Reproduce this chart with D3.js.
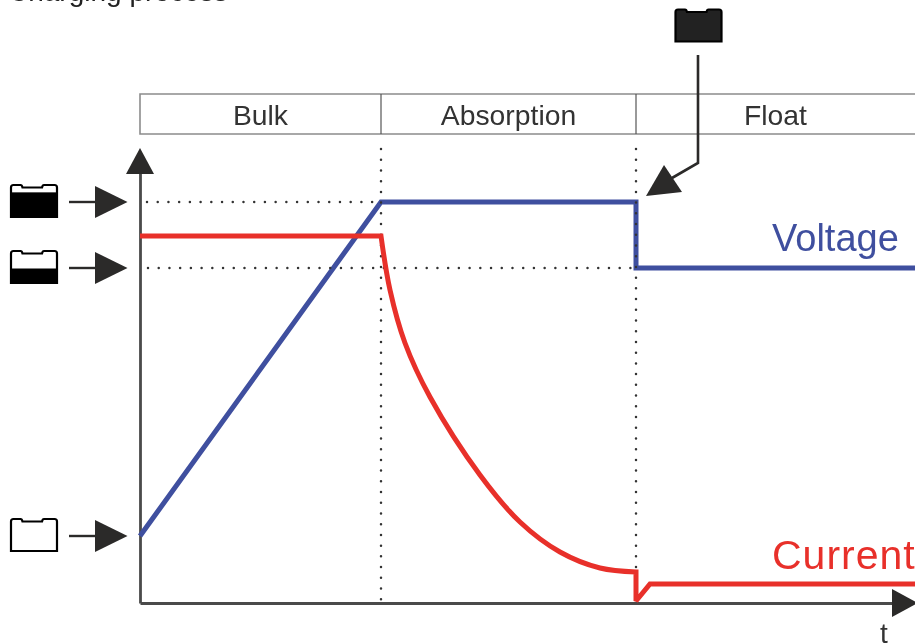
<!DOCTYPE html>
<html>
<head>
<meta charset="utf-8">
<script src="https://cdn.jsdelivr.net/npm/d3@7"></script>
<style>
	html, body { margin: 0; padding: 0; background: #fff; overflow: hidden; }
	svg { display: block; filter: blur(0.45px); }
	text { font-family: "Liberation Sans", Arial, sans-serif; }
</style>
</head>
<body>
<div id="chart"></div>
<script>
//phases of the charge, t is in picture units from the origin
var phaseNames = ["Bulk", "Absorption", "Float"];
var phaseEdges = [0, 241, 496, 775];

//levels on the vertical axis
var levelAbsorption = 401;
var levelFloat = 335;
var levelEmpty = 67;

var voltageT = [0, 241, 496, 496, 775];
var voltageV = [67, 401, 401, 335, 335];

var currentFlatT = [0, 241];
var currentFlatV = [367, 367];
var currentDecayT = [241, 250, 265, 290, 340, 380, 420, 460, 496];
var currentDecayV = [367, 313, 260, 206, 128, 81, 51, 35, 31];
var currentFloatT = [496, 496, 510, 775];
var currentFloatV = [31, 2, 19, 19];

//charge state of the battery icons, 1 = full
var batteryLevels = [0.85, 0.5, 0];

var width = 915, height = 644;
var ink = "#2b2a29", blue = "#3f4f9f", red = "#e8302a", rule = "#8c8c8c";

var svg = d3.select("#chart").append("svg")
	.attr("width", width)
	.attr("height", height);

var x = d3.scaleLinear().domain([0, 752]).range([140, 892]);
var y = d3.scaleLinear().domain([0, 430]).range([603, 173]);

svg.append("text")
	.attr("x", 8)
	.attr("y", 1)
	.style("font-size", "28px")
	.style("fill", "#222")
	.text("Charging process");

//header with the phase names
var headerTop = 94, headerBottom = 134;
svg.append("path")
	.attr("d", "M" + width + "," + headerTop + "H" + x(0) + "V" + headerBottom + "H" + width)
	.attr("fill", "none")
	.attr("stroke", rule)
	.attr("stroke-width", 1.6);

svg.selectAll(".phaseEdge")
	.data(phaseEdges.slice(1, 3))
	.enter().append("line")
	.attr("class", "phaseEdge")
	.attr("x1", function(d){ return x(d); })
	.attr("x2", function(d){ return x(d); })
	.attr("y1", headerTop)
	.attr("y2", headerBottom)
	.attr("stroke", "#555")
	.attr("stroke-width", 1.2);

svg.selectAll(".phaseName")
	.data(phaseNames)
	.enter().append("text")
	.attr("class", "phaseName")
	.attr("x", function(d, i){
		return i == 2 ? 775.5 : (x(phaseEdges[i]) + x(phaseEdges[i + 1])) / 2;
	})
	.attr("y", 125)
	.attr("text-anchor", "middle")
	.style("font-size", "28.3px")
	.style("fill", "#333")
	.text(function(d){ return d; });

//axes, no ticks on them, only the two arrows
var axisX = svg.append("g")
	.attr("transform", "translate(0," + y(0) + ")")
	.call(d3.axisBottom(x).tickValues([]).tickSizeOuter(0));
var axisY = svg.append("g")
	.attr("transform", "translate(" + x(0) + ",0)")
	.call(d3.axisLeft(y).tickValues([]).tickSizeOuter(0));
svg.selectAll(".domain")
	.attr("stroke", "#4a4a4a")
	.attr("stroke-width", 2.8);

function triangle(points){
	svg.append("polygon")
		.attr("points", points.map(function(p){ return p.join(","); }).join(" "))
		.attr("fill", ink);
}
triangle([[x(0), 148], [x(0) - 14, 174], [x(0) + 14, 174]]);
triangle([[918, y(0)], [892, y(0) - 14], [892, y(0) + 14]]);

svg.append("text")
	.attr("x", 884)
	.attr("y", 643)
	.attr("text-anchor", "middle")
	.style("font-size", "28px")
	.style("fill", "#333")
	.text("t");

var line = d3.line()
	.x(function(d){ return x(d[0]); })
	.y(function(d){ return y(d[1]); });

svg.append("path")
	.attr("d", line(d3.zip(voltageT, voltageV)))
	.attr("fill", "none")
	.attr("stroke", blue)
	.attr("stroke-width", 5)
	.attr("stroke-linejoin", "miter");

//dotted guides
function dotted(x1, y1, x2, y2){
	svg.append("line")
		.attr("x1", x1).attr("y1", y1)
		.attr("x2", x2).attr("y2", y2)
		.attr("stroke", "#333")
		.attr("stroke-width", 2.5)
		.attr("stroke-linecap", "round")
		.attr("stroke-dasharray", "0 10.72");
}
dotted(x(phaseEdges[1]), 149, x(phaseEdges[1]), y(0));
dotted(x(phaseEdges[2]), 149, x(phaseEdges[2]), y(0));
dotted(147, y(levelAbsorption), x(phaseEdges[1]), y(levelAbsorption));
dotted(148, y(levelFloat), x(phaseEdges[2]), y(levelFloat));

//current is one path so the corners stay sharp
var currentPath = line.curve(d3.curveLinear)(d3.zip(currentFlatT, currentFlatV))
	+ line.curve(d3.curveCatmullRom)(d3.zip(currentDecayT, currentDecayV)).replace("M", "L")
	+ line.curve(d3.curveLinear)(d3.zip(currentFloatT, currentFloatV)).replace("M", "L");

svg.append("path")
	.attr("d", currentPath)
	.attr("fill", "none")
	.attr("stroke", red)
	.attr("stroke-width", 5)
	.attr("stroke-linejoin", "miter")
	.attr("stroke-miterlimit", 2);

svg.append("text")
	.attr("x", 772)
	.attr("y", 251)
	.style("font-size", "38px")
	.style("fill", blue)
	.text("Voltage");

svg.append("text")
	.attr("x", 772)
	.attr("y", 569)
	.style("font-size", "41px")
	.style("letter-spacing", "1px")
	.style("fill", red)
	.text("Current");

//battery icon, level is how much of the body is filled
function battery(left, top, level, fill){
	var w = 46, h = 32;
	var outline = "M" + left + "," + (top + 2.5)
		+ "q0,-2.5 2.5,-2.5h7q1.5,0 2,2.5h19.5q.5,-2.5 2,-2.5h10.5q2.5,0 2.5,2.5V" + (top + h) + "H" + left + "Z";
	svg.append("path")
		.attr("d", outline)
		.attr("fill", level == 1 ? fill : "#fff")
		.attr("stroke", "#000")
		.attr("stroke-width", 2.2);
	if(level > 0 && level < 1)
		svg.append("rect")
			.attr("x", left)
			.attr("y", top + h - (h - 3) * level)
			.attr("width", w)
			.attr("height", (h - 3) * level)
			.attr("fill", "#000");
}

var levels = [levelAbsorption, levelFloat, levelEmpty];
levels.forEach(function(level, i){
	var cy = y(level);
	battery(11, cy - 17, batteryLevels[i], "#000");
	svg.append("line")
		.attr("x1", 69).attr("x2", 96)
		.attr("y1", cy).attr("y2", cy)
		.attr("stroke", ink)
		.attr("stroke-width", 2.4);
	triangle([[127.5, cy], [95, cy - 16], [95, cy + 16]]);
});

//full battery over the float corner
battery(675.5, 9.5, 1, "#222");
svg.append("path")
	.attr("d", "M698,55V163L672,178")
	.attr("fill", "none")
	.attr("stroke", ink)
	.attr("stroke-width", 2.6);
triangle([[646, 196], [664, 165], [682, 192]]);
</script>
</body>
</html>
